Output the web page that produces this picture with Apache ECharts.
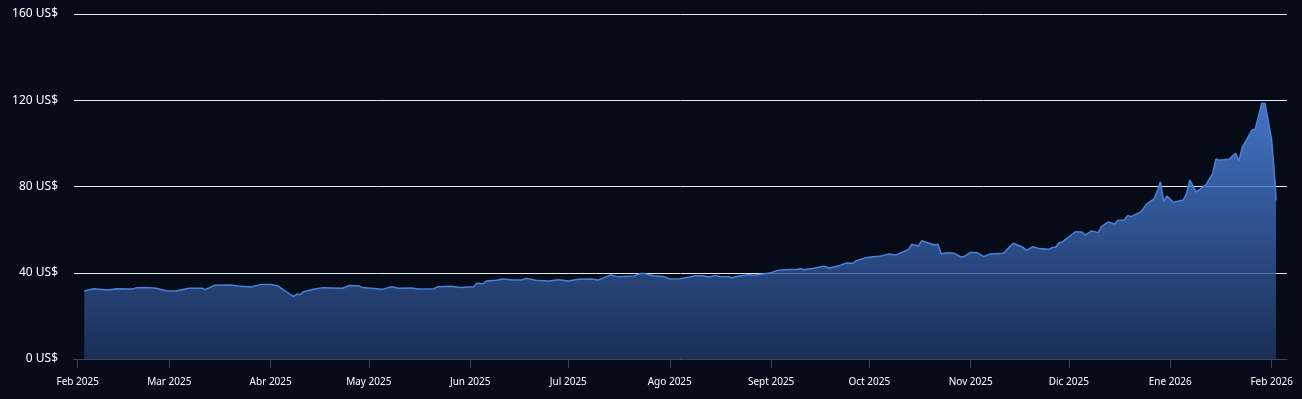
<!DOCTYPE html>
<html>
<head>
<meta charset="utf-8">
<script src="https://cdn.jsdelivr.net/npm/echarts@6/dist/echarts.min.js"></script>
<style>
html,body{margin:0;padding:0;background:#050c18;}
#chart{width:1302px;height:399px;}
</style>
</head>
<body>
<div id="chart"></div>
<script>
const dates = [
'2025-02-03','2025-02-06','2025-02-10','2025-02-13','2025-02-18','2025-02-19','2025-02-22','2025-02-25','2025-02-28',
'2025-03-03','2025-03-07','2025-03-11','2025-03-12','2025-03-15','2025-03-20','2025-03-22','2025-03-26','2025-03-29',
'2025-04-01','2025-04-03','2025-04-05','2025-04-08','2025-04-09','2025-04-10','2025-04-11','2025-04-14','2025-04-17','2025-04-23','2025-04-25','2025-04-28','2025-04-29',
'2025-05-05','2025-05-08','2025-05-10','2025-05-14','2025-05-16','2025-05-21','2025-05-22','2025-05-26','2025-05-29',
'2025-06-02','2025-06-03','2025-06-05','2025-06-06','2025-06-09','2025-06-11','2025-06-14','2025-06-17','2025-06-18','2025-06-21','2025-06-25','2025-06-28',
'2025-07-01','2025-07-04','2025-07-08','2025-07-10','2025-07-14','2025-07-16','2025-07-21','2025-07-23','2025-07-24','2025-07-27','2025-07-30',
'2025-08-01','2025-08-04','2025-08-07','2025-08-09','2025-08-11','2025-08-13','2025-08-15','2025-08-16','2025-08-19','2025-08-20','2025-08-22','2025-08-25','2025-08-27','2025-08-29',
'2025-09-01','2025-09-03','2025-09-05','2025-09-09','2025-09-10','2025-09-11','2025-09-14','2025-09-17','2025-09-19','2025-09-22','2025-09-24','2025-09-26','2025-09-27','2025-09-30',
'2025-10-02','2025-10-04','2025-10-07','2025-10-09','2025-10-13','2025-10-14','2025-10-16','2025-10-17','2025-10-21','2025-10-22','2025-10-23','2025-10-25','2025-10-27','2025-10-29','2025-10-30',
'2025-11-01','2025-11-03','2025-11-05','2025-11-07','2025-11-11','2025-11-12','2025-11-14','2025-11-17','2025-11-18','2025-11-20','2025-11-22','2025-11-25','2025-11-26','2025-11-27','2025-11-28','2025-11-29',
'2025-12-03','2025-12-05','2025-12-06','2025-12-08','2025-12-10','2025-12-11','2025-12-13','2025-12-15','2025-12-16','2025-12-18','2025-12-19','2025-12-20','2025-12-23','2025-12-25','2025-12-27','2025-12-28','2025-12-29','2025-12-30','2025-12-31',
'2026-01-02','2026-01-05','2026-01-06','2026-01-07','2026-01-09','2026-01-12','2026-01-14','2026-01-15','2026-01-16','2026-01-19','2026-01-20','2026-01-21','2026-01-22','2026-01-23','2026-01-26','2026-01-27','2026-01-29','2026-01-30',
'2026-02-01','2026-02-02 03','2026-02-02 08'
];
const prices = [
31.5,32.6,32.0,32.6,32.5,33.1,33.2,32.8,31.7,
31.5,32.8,32.8,32.3,34.2,34.3,33.9,33.4,34.6,
34.5,34.0,32.0,28.9,30.1,29.8,31.2,32.3,33.1,32.8,34.1,33.9,33.2,
32.3,33.5,32.8,32.9,32.5,32.6,33.5,33.7,33.2,
33.5,35.1,34.9,36.2,36.5,37.1,36.6,36.8,37.4,36.5,36.2,36.8,
36.2,37.0,37.1,36.6,39.0,38.2,38.5,39.6,39.7,38.6,38.3,
37.1,37.2,38.0,38.6,38.6,38.0,38.8,38.3,38.2,37.7,38.5,39.1,38.8,39.3,
40.0,41.1,41.4,41.6,41.9,41.4,42.1,43.0,42.2,43.4,44.5,44.4,45.6,47.0,
47.4,47.6,48.7,48.2,50.8,53.2,52.4,54.8,52.9,53.2,48.8,49.3,49.0,47.3,47.5,
49.5,49.3,47.5,48.7,49.0,50.6,53.7,51.8,50.4,52.1,51.2,50.9,51.8,51.8,53.9,54.3,
59.0,58.9,57.5,59.4,58.6,61.4,63.5,62.6,64.3,64.5,66.6,66.0,68.2,72.2,74.2,77.6,82.2,73.0,75.6,
72.7,73.7,76.8,83.0,77.4,81.0,86.1,92.8,92.2,92.6,94.1,95.4,91.8,98.2,106.2,106.7,118.6,118.6,
101.6,80.7,73.5
];
const monthTicks = ['2025-02-01','2025-03-01','2025-04-01','2025-05-01','2025-06-01','2025-07-01','2025-08-01','2025-09-01','2025-10-01','2025-11-01','2025-12-01','2026-01-01','2026-02-01'];
const monthLabels = ['Feb 2025','Mar 2025','Abr 2025','May 2025','Jun 2025','Jul 2025','Ago 2025','Sept 2025','Oct 2025','Nov 2025','Dic 2025','Ene 2026','Feb 2026'];
const yMin = 0, yMax = 160, yStep = 40;
const yUnit = ' US$';

function toTs(s){
  const parts = s.split(' ');
  const [y,m,d] = parts[0].split('-').map(Number);
  const h = parts[1] ? Number(parts[1]) : 0;
  return new Date(y, m-1, d, h).getTime();
}
const DAY = 86400000;
const tickTs = monthTicks.map(toTs);
const seriesData = dates.map((d,i)=>[toTs(d), prices[i]]);

const chart = echarts.init(document.getElementById('chart'), null, {renderer:'canvas'});
chart.setOption({
  backgroundColor:'#050c18',
  animation:false,
  grid:{left:74,right:15,top:14,bottom:40,containLabel:false},
  xAxis:{
    type:'value',
    min: tickTs[0] - 1.13*DAY,
    max: tickTs[tickTs.length-1] + 4.7*DAY,
    splitLine:{show:false},
    axisLine:{show:true,lineStyle:{color:'#3f4550',width:1}},
    axisTick:{show:true,customValues:tickTs,length:9,lineStyle:{color:'#3f4550'}},
    axisLabel:{
      customValues:tickTs,
      color:'#ffffff',
      fontFamily:'Noto Sans',
      fontSize:10,
      margin:18,
      formatter:function(v){
        let best=0,bd=Infinity;
        tickTs.forEach((t,i)=>{const dd=Math.abs(t-v); if(dd<bd){bd=dd;best=i;}});
        return monthLabels[best];
      }
    }
  },
  yAxis:{
    type:'value',
    min:yMin,max:yMax,interval:yStep,
    axisLine:{show:false},
    axisTick:{show:false},
    splitLine:{show:true,lineStyle:{color:'#e8e8e8',width:1}},
    axisLabel:{color:'#ffffff',fontFamily:'Noto Sans',fontSize:12,margin:16,formatter:'{value}'+yUnit}
  },
  series:[{
    type:'line',
    data:seriesData,
    showSymbol:false,
    smooth:false,
    lineStyle:{color:'#4a80d8',width:1.5},
    areaStyle:{
      opacity:0.78,
      color:new echarts.graphic.LinearGradient(0,0,0,1,[
        {offset:0,color:'#5590f5'},
        {offset:1,color:'#1f3766'}
      ])
    }
  }]
});
</script>
</body>
</html>
